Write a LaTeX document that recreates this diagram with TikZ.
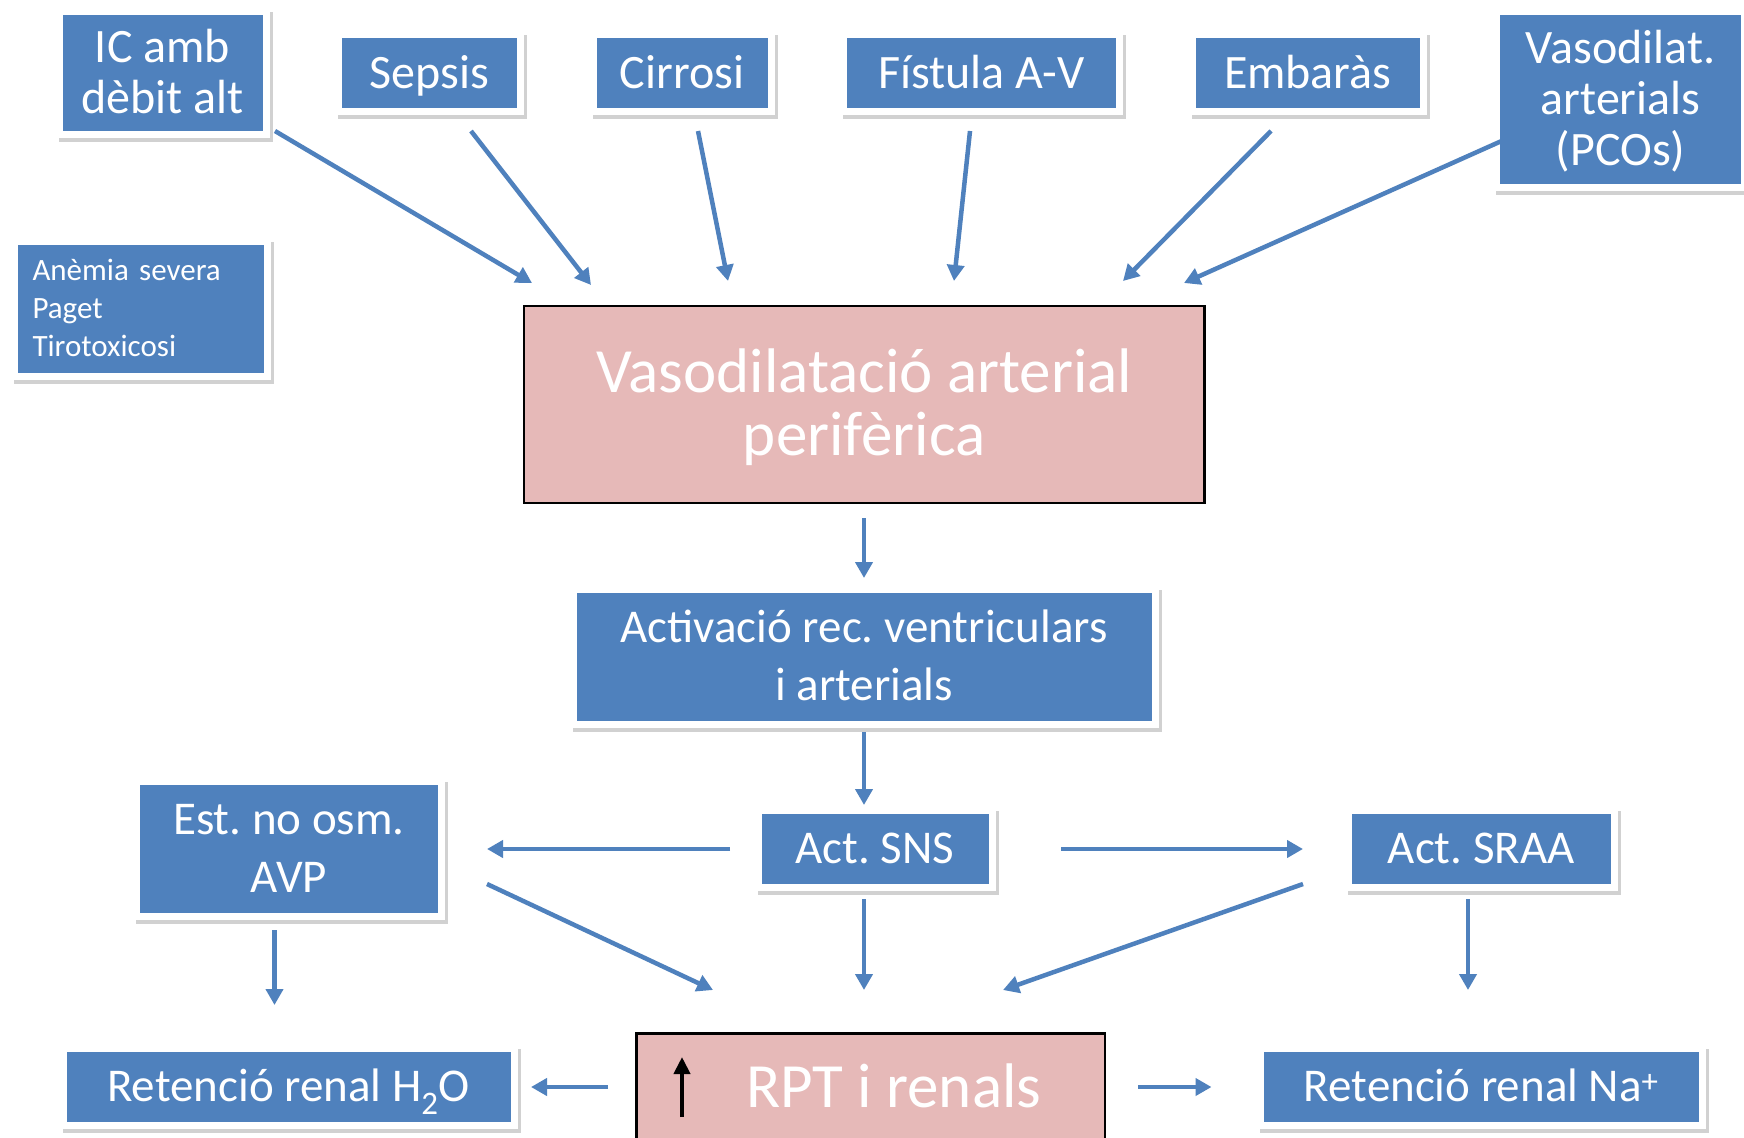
\documentclass[tikz,border=0pt]{standalone}
\usepackage{fontspec}
\setmainfont{Carlito}
\usetikzlibrary{arrows.meta}
\definecolor{pblue}{HTML}{4F81BD}
\definecolor{ppink}{HTML}{E6B9B8}
\frenchspacing
\begin{document}
\begin{tikzpicture}[x=1pt,y=-1pt,
  bbox/.style={rectangle, fill=pblue, draw=white, line width=7pt, text=white, inner sep=0pt, align=center,
     preaction={draw=black, fill=none, draw opacity=0.18, line width=7pt, transform canvas={shift={(3pt,-4pt)}}}},
  pbox/.style={rectangle, fill=ppink, draw=black, line width=2.5pt, text=white, inner sep=0pt, align=center},
  fA/.style={font=\fontsize{48}{51}\selectfont\frenchspacing, text height=30.3pt, text depth=0pt},
  fB/.style={font=\fontsize{47}{58}\selectfont\frenchspacing, text height=29.7pt, text depth=0pt},
  arr/.style={draw=pblue, line width=4.5pt, -{Triangle[length=16pt,width=17pt]}},
  blk/.style={draw=black, line width=4pt, -{Triangle[length=17pt,width=16pt]}}]
\useasboundingbox (0,0) rectangle (1744,1137);
\clip (0,0) rectangle (1744,1137);
\fill[white] (0,0) rectangle (1744,1137);

% top causes
\node[bbox, fA, text height=81.3pt, minimum width=207pt, minimum height=122pt] (ic) at (162.5,73) {IC amb\\dèbit alt};
\node[bbox, fA, minimum width=182pt, minimum height=76.5pt] (sepsis) at (429.5,73) {Sepsis};
\node[bbox, fA, minimum width=178pt, minimum height=76.5pt] (cirrosi) at (682,73) {Cirrosi};
\node[bbox, fA, minimum width=276pt, minimum height=76.5pt] (fistula) at (981.5,73) {Fístula A-V};
\node[bbox, fA, minimum width=230.5pt, minimum height=76.5pt] (embaras) at (1307.75,73) {Embaràs};
\node[bbox, fA, text height=132.3pt, minimum width=248pt, minimum height=175pt] (vasod) at (1620.5,99.5) {Vasodilat.\\arterials\\(PCOs)};
\node[bbox, font=\fontsize{31}{38}\selectfont\frenchspacing, text height=19.6pt, text depth=76pt, text width=216pt, align=left, inner xsep=18.5pt, minimum width=253pt, minimum height=134.5pt] (anemia) at (140.5,309) {Anèmia severa\\Paget\\Tirotoxicosi};

% central chain
\node[pbox, font=\fontsize{63}{63}\selectfont, text height=102.8pt, text depth=0pt, minimum width=680.5pt, minimum height=197pt] (vaso) at (864.25,404.5) {Vasodilatació arterial\\perifèrica};
\node[bbox, fB, text height=87.7pt, minimum width=582pt, minimum height=134.5pt] (activ) at (864,657) {Activació rec. ventriculars\\i arterials};
\node[bbox, fB, text height=87.7pt, minimum width=305pt, minimum height=134.5pt] (est) at (289,849) {Est. no osm.\\AVP};
\node[bbox, fB, minimum width=234pt, minimum height=77.5pt] (sns) at (875,849) {Act. SNS};
\node[bbox, fB, minimum width=265.5pt, minimum height=77.5pt] (sraa) at (1481.25,849) {Act. SRAA};
\node[bbox, fB, minimum width=451pt, minimum height=77pt] (h2o) at (288.5,1086.5) {Retenció renal H\textsubscript{2}O};
\node[bbox, fB, minimum width=441.5pt, minimum height=77pt] (na) at (1481.25,1086.5) {Retenció renal Na\textsuperscript{+}};
\node[pbox, font=\fontsize{63}{63}\selectfont, text height=39.8pt, text depth=0pt, minimum width=468.5pt, minimum height=109pt] (rpt) at (870.75,1088) {\hspace*{46pt}RPT i renals};
\draw[blk] (682,1117) -- (682,1057);

% connector end points
\coordinate (ic1) at (275,131);   \coordinate (ic2) at (532,283);
\coordinate (se1) at (471,131);   \coordinate (se2) at (591,285);
\coordinate (ci1) at (698,131);   \coordinate (ci2) at (728,281);
\coordinate (fi1) at (970,131);   \coordinate (fi2) at (954,281);
\coordinate (em1) at (1271,131);  \coordinate (em2) at (1123,281);
\coordinate (va1) at (1515,135);  \coordinate (va2) at (1184,283);
\coordinate (vs1) at (864,518);   \coordinate (vs2) at (864,578);
\coordinate (ac1) at (864,732);   \coordinate (ac2) at (864,805);
\coordinate (sn1) at (730,849);   \coordinate (sn2) at (487,849);
\coordinate (sn3) at (1061,849);  \coordinate (sn4) at (1303,849);
\coordinate (es1) at (487,884);   \coordinate (es2) at (713,990);
\coordinate (sn5) at (864,899);   \coordinate (sn6) at (864,990);
\coordinate (sr1) at (1303,884);  \coordinate (sr2) at (1003,990);
\coordinate (sr3) at (1468,899);  \coordinate (sr4) at (1468,990);
\coordinate (es3) at (274.5,930); \coordinate (es4) at (274.5,1005);
\coordinate (rp1) at (608,1087);  \coordinate (rp2) at (531,1087);
\coordinate (rp3) at (1138,1087); \coordinate (rp4) at (1211.5,1087);

\draw[arr] (ic1) -- (ic2);
\draw[arr] (se1) -- (se2);
\draw[arr] (ci1) -- (ci2);
\draw[arr] (fi1) -- (fi2);
\draw[arr] (em1) -- (em2);
\draw[arr] (va1) -- (va2);
\draw[arr] (vs1) -- (vs2);
\draw[arr] (ac1) -- (ac2);
\draw[arr] (sn1) -- (sn2);
\draw[arr] (sn3) -- (sn4);
\draw[arr] (es1) -- (es2);
\draw[arr] (sn5) -- (sn6);
\draw[arr] (sr1) -- (sr2);
\draw[arr] (sr3) -- (sr4);
\draw[arr] (es3) -- (es4);
\draw[arr] (rp1) -- (rp2);
\draw[arr] (rp3) -- (rp4);
\end{tikzpicture}
\end{document}
